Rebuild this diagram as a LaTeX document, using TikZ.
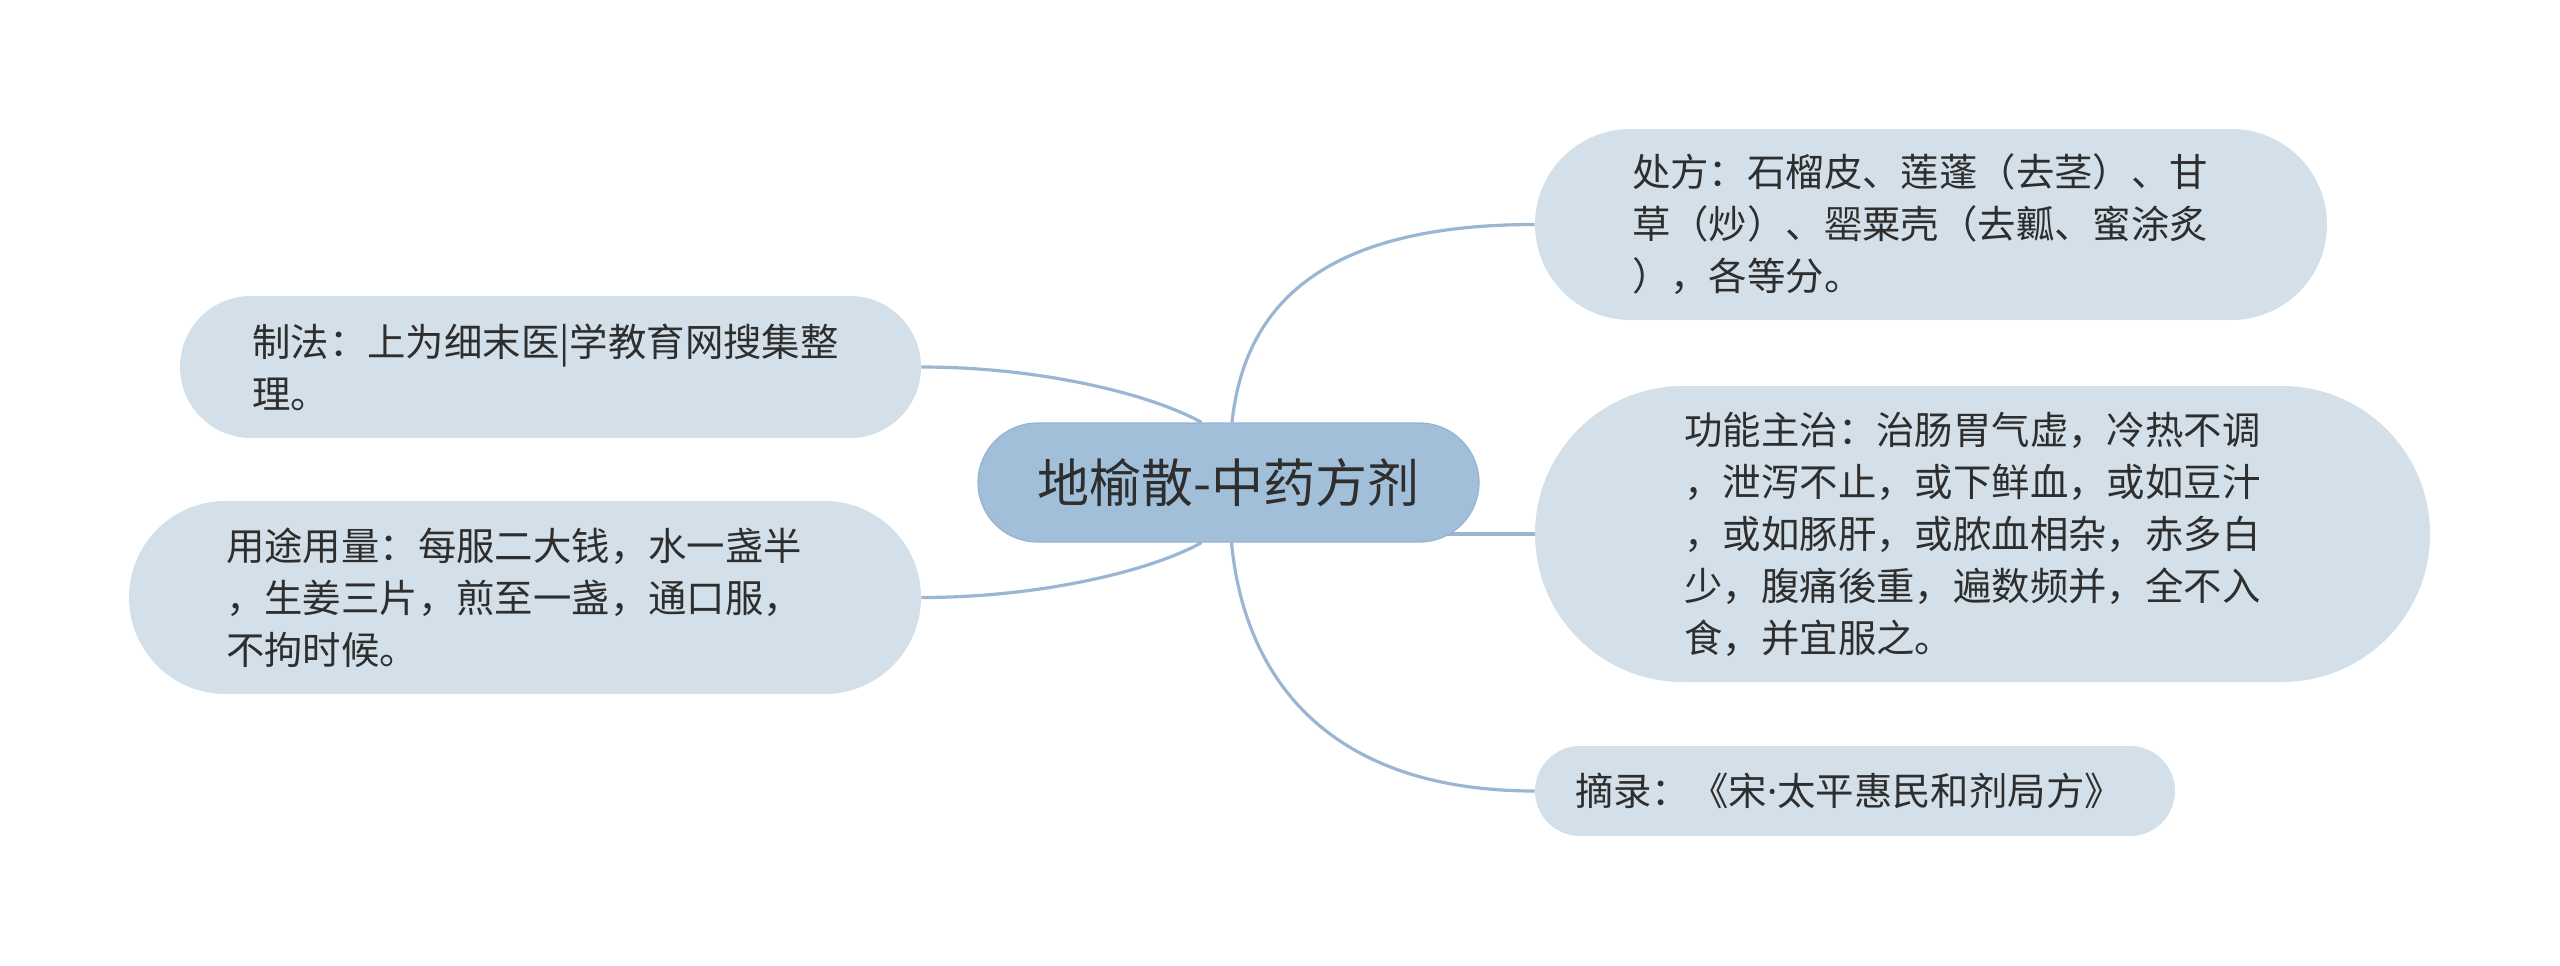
\documentclass[tikz,border=0pt]{standalone}
\usepackage{fontspec}
\setmainfont{Noto Sans CJK SC}
\newfontfamily\latinfont{Noto Sans}
\usetikzlibrary{backgrounds,calc}
\definecolor{cfill}{HTML}{A2BFDA}
\definecolor{cedge}{HTML}{94B4D4}
\definecolor{kfill}{HTML}{D3E0E9}
\definecolor{lcol}{HTML}{9AB6D2}
\definecolor{tcol}{HTML}{2E2E2E}
\newcommand{\padR}[1]{\rule{#1}{0pt}}
\begin{document}
\begin{tikzpicture}[x=0.5pt,y=-0.5pt,
  root/.style={fill=cfill, draw=cedge, line width=0.6pt, text=tcol,
    font=\fontsize{26}{30}\selectfont, minimum width=250.5pt,
    minimum height=59.5pt, rounded corners=29.75pt, inner sep=0pt},
  topic/.style={fill=kfill, text=tcol, font=\fontsize{19.2}{26}\selectfont,
    align=left, inner sep=0pt},
  link/.style={draw=lcol, line width=1.6pt}]
\useasboundingbox (0,0) rectangle (2560,965);
\node[root] (c) at (1228.5,482.5) {地榆散-中药方剂};
\node[topic, minimum width=396pt, minimum height=95.5pt, rounded corners=47.75pt] (p1) at (1931,224.5)
  {处方：石榴皮、莲蓬（去茎）、甘\padR{11pt}\\草（炒）、罂粟壳（去瓤、蜜涂炙\\），各等分。};
\node[topic, minimum width=447.5pt, minimum height=148pt, rounded corners=74pt] (p2) at (1982.5,534)
  {功能主治：治肠胃气虚，冷热不调\padR{10pt}\\，泄泻不止，或下鲜血，或如豆汁\\，或如豚肝，或脓血相杂，赤多白\\少，腹痛後重，遍数频并，全不入\\食，并宜服之。};
\node[topic, minimum width=320pt, minimum height=45pt, rounded corners=22.5pt] (p3) at (1855,791)
  {摘录：《宋{\latinfont ·}太平惠民和剂局方》\padR{6pt}};
\node[topic, minimum width=370.5pt, minimum height=71pt, rounded corners=35.5pt] (p4) at (550.5,367)
  {制法：上为细末医|学教育网搜集整\padR{5pt}\\理。};
\node[topic, minimum width=396pt, minimum height=96.5pt, rounded corners=48.25pt] (p5) at (525,597.5)
  {用途用量：每服二大钱，水一盏半\padR{11pt}\\，生姜三片，煎至一盏，通口服，\\不拘时候。};
\begin{scope}[on background layer]
  \draw[link] ($(c.north)+(3.5,0)$) .. controls +(13,-123) and +(-205,0) .. (p1.west);
  \draw[link] ($(c.south)+(3,0)$) .. controls +(13,137) and +(-205,0) .. (p3.west);
  \draw[link] (c.center |- p2.west) -- (p2.west);
  \draw[link] (p4.east) .. controls +(120,0) and +(-50,-28) .. ($(c.north)+(-27,0)$);
  \draw[link] (p5.east) .. controls +(120,0) and +(-50,28) .. ($(c.south)+(-27,0)$);
\end{scope}
\end{tikzpicture}
\end{document}
